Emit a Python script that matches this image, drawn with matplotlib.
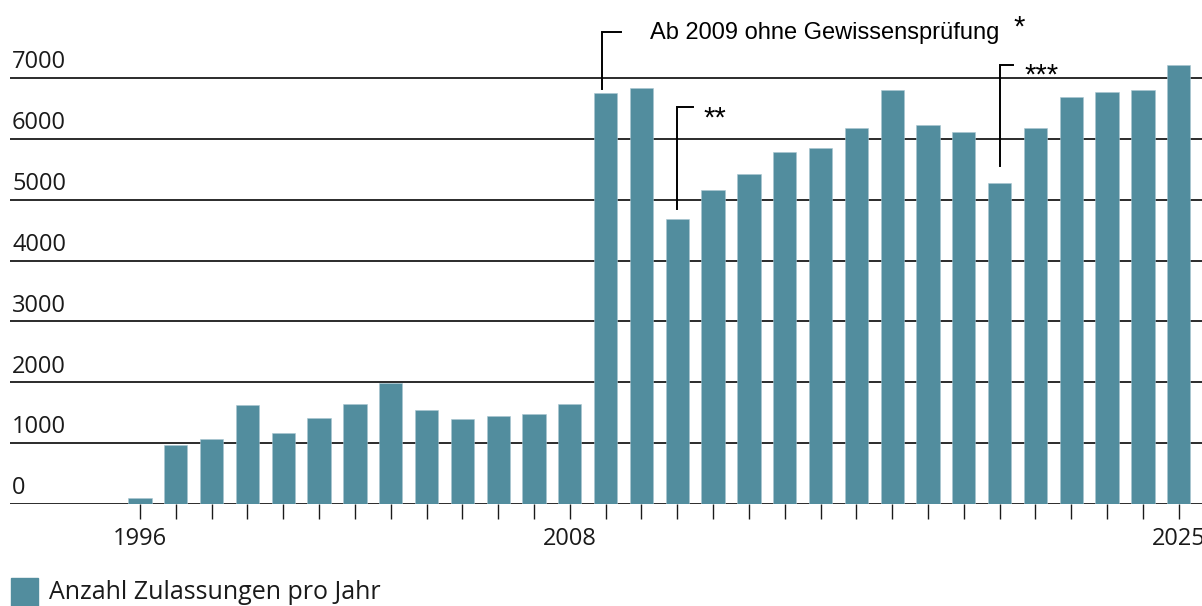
import matplotlib
matplotlib.use("Agg")
import matplotlib.pyplot as plt
from matplotlib.patches import Rectangle

# --- data ---
years = list(range(1996, 2026))
zulassungen = [100, 965, 1060, 1620, 1170, 1410, 1650, 1990, 1540, 1390,
               1445, 1475, 1650, 6745, 6830, 4680, 5155, 5430, 5785, 5845,
               6175, 6805, 6235, 6110, 5275, 6175, 6685, 6775, 6805, 7220]
y_ticks = [0, 1000, 2000, 3000, 4000, 5000, 6000, 7000]
x_labels = {1996: "1996", 2008: "2008", 2025: "2025"}
legend_label = "Anzahl Zulassungen pro Jahr"

BAR_COLOR = "#528d9e"
GRID_COLOR = "#2b2b2b"
TEXT_COLOR = "#1a1a1a"
TICK_FONT = "Open Sans"
NOTE_FONT = "Liberation Sans"

fig = plt.figure(figsize=(12.02, 6.06), dpi=100)
# axes: x from pixel 10 to 1202, baseline at y pixel 504, top at figure top
ax = fig.add_axes([10 / 1202, 102 / 606, 1192 / 1202, 504 / 606])
ax.set_xlim(1992.37, 2025.65)
ax.set_ylim(0, 8281)

for v in y_ticks:
    ax.axhline(v, color=GRID_COLOR, lw=1.4, zorder=1)
    ax.annotate(f"{v}", xy=(0, v), xycoords=("axes fraction", "data"),
                xytext=(1.5, 7), textcoords="offset points",
                ha="left", va="baseline", fontsize=17, family=TICK_FONT,
                color=TEXT_COLOR)

ax.bar(years, zulassungen, width=0.65, color=BAR_COLOR, zorder=2,
       edgecolor="#a8c6d0", linewidth=0.4)

ax.set_xticks(years)
ax.set_xticklabels([x_labels.get(y, "") for y in years], fontsize=17,
                   family=TICK_FONT, color=TEXT_COLOR)
ax.tick_params(axis="x", length=10.8, width=1.0, color=TEXT_COLOR, pad=6)
ax.set_yticks([])
for s in ax.spines.values():
    s.set_visible(False)

# --- bracket annotations ---
notes = [
    # (x of bracket, y bottom, y top, arm length)
    (2008.9, 6820, 7755, 0.53),
    (2011.0, 4845, 6525, 0.45),
    (2020.0, 5555, 7215, 0.37),
]
for x, yb, yt, arm in notes:
    ax.plot([x, x, x + arm], [yb, yt, yt], color="black", lw=1.4,
            solid_joinstyle="miter", zorder=3, clip_on=False)

ax.text(2010.24, 7646, "Ab 2009 ohne Gewissensprüfung", fontsize=17,
        family=NOTE_FONT, color="black", va="baseline", ha="left")
ax.text(2020.40, 7700, "*", fontsize=21, family=NOTE_FONT, va="baseline")
ax.text(2011.72, 6200, "**", fontsize=21, family=NOTE_FONT, va="baseline")
ax.text(2020.68, 6900, "***", fontsize=21, family=NOTE_FONT, va="baseline")

# --- legend ---
fig.add_artist(Rectangle((11 / 1202, 0), 27 / 1202, 28 / 606,
                         transform=fig.transFigure, color=BAR_COLOR))
fig.text(49 / 1202, 7 / 606, legend_label, fontsize=18, family=TICK_FONT,
         color=TEXT_COLOR, va="baseline", ha="left")

fig.savefig("out.png", dpi=100)
